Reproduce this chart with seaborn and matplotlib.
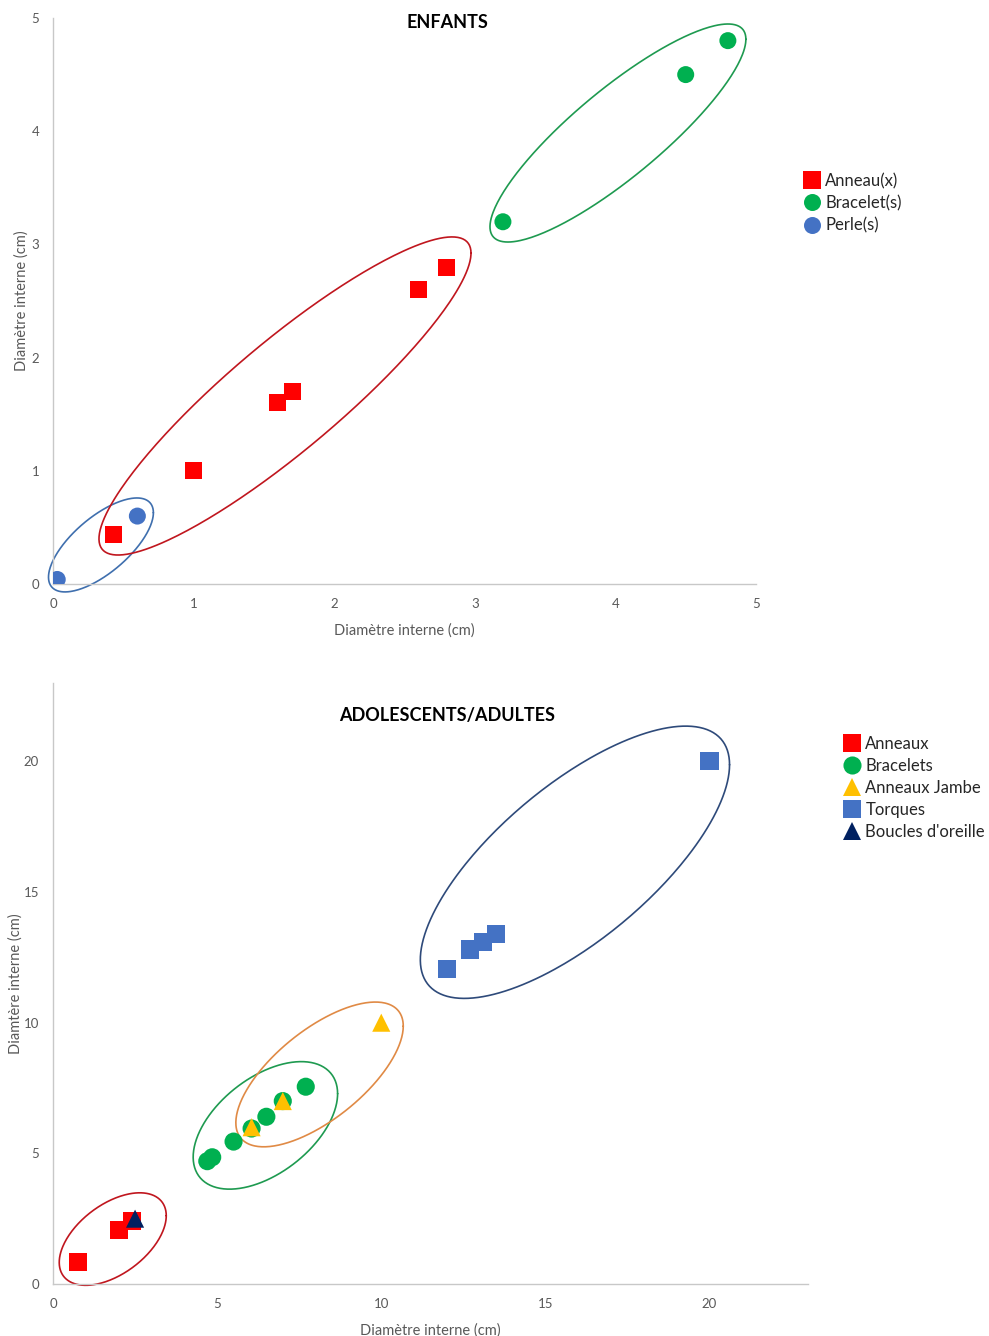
import numpy as np
import pandas as pd
import matplotlib.pyplot as plt
import seaborn as sns

# data - enfants
enf_cat = ['Anneau(x)'] * 6 + ['Bracelet(s)'] * 3 + ['Perle(s)'] * 2
enf_x = [0.43, 1.0, 1.6, 1.7, 2.6, 2.8, 3.2, 4.5, 4.8, 0.03, 0.6]
enf_y = [0.44, 1.0, 1.6, 1.7, 2.6, 2.8, 3.2, 4.5, 4.8, 0.04, 0.6]

# data - adolescents/adultes
adu_cat = (['Anneaux'] * 3 + ['Bracelets'] * 7 + ['Anneaux Jambe'] * 3
           + ['Torques'] * 5 + ["Boucles d'oreille"])
adu_x = [0.75, 2.0, 2.4,
         4.7, 4.85, 5.5, 6.05, 6.5, 7.0, 7.7,
         6.05, 7.0, 10.0,
         12.0, 12.7, 13.1, 13.5, 20.0,
         2.5]
adu_y = [0.85, 2.05, 2.4,
         4.7, 4.85, 5.45, 5.95, 6.4, 7.0, 7.55,
         6.0, 7.0, 10.0,
         12.05, 12.8, 13.1, 13.4, 20.0,
         2.5]

# hand drawn groupings: center, half width, half height, tilt (sin phi), colour
enf_groups = [((0.341, 0.345), 0.373, 0.415, 0.686, '#3F6FAE'),
              ((1.650, 1.661), 1.323, 1.405, 0.898, '#C0161E'),
              ((4.018, 3.984), 0.910, 0.963, 0.86, '#1E9A50')]
adu_groups = [((1.82, 1.72), 1.63, 1.77, 0.505, '#C0161E'),
              ((6.47, 6.07), 2.20, 2.44, 0.497, '#1E9A50'),
              ((8.12, 8.02), 2.55, 2.77, 0.667, '#E08A45'),
              ((15.9, 16.14), 4.71, 5.21, 0.716, '#2E4A7A')]

enf_colors = {'Anneau(x)': '#FF0000', 'Bracelet(s)': '#00B050', 'Perle(s)': '#4472C4'}
enf_markers = {'Anneau(x)': 's', 'Bracelet(s)': 'o', 'Perle(s)': 'o'}
adu_colors = {'Anneaux': '#FF0000', 'Bracelets': '#00B050', 'Anneaux Jambe': '#FFC000',
              'Torques': '#4472C4', "Boucles d'oreille": '#002060'}
adu_markers = {'Anneaux': 's', 'Bracelets': 'o', 'Anneaux Jambe': '^',
               'Torques': 's', "Boucles d'oreille": '^'}

sns.set_style('white')
plt.rcParams['font.family'] = ['Lato', 'DejaVu Sans']

fig = plt.figure(figsize=(9.89, 13.36), dpi=100)
ax1 = fig.add_axes([53 / 989, 1 - 584 / 1336, (756 - 53) / 989, (584 - 18) / 1336])
ax2 = fig.add_axes([53 / 989, 1 - 1284 / 1336, (808 - 53) / 989, (1284 - 683) / 1336])


def draw_ellipse(ax, c, hw, hh, sphi, col):
    t = np.linspace(0, 2 * np.pi, 300)
    phi = np.arcsin(sphi)
    ax.plot(c[0] + hw * np.cos(t), c[1] + hh * np.sin(t + phi),
            color=col, lw=1.2, zorder=1, clip_on=False)


def style_axes(ax, ylabel, ypad):
    sns.despine(ax=ax)
    for s in ['left', 'bottom']:
        ax.spines[s].set_color('#C8C8C8')
        ax.spines[s].set_linewidth(1.0)
    ax.tick_params(axis='both', length=0, labelsize=9.5, labelcolor='#595959', pad=10)
    ax.set_xlabel('Diamètre interne (cm)', fontsize=10.5, color='#595959', labelpad=10)
    ax.set_ylabel(ylabel, fontsize=10.5, color='#595959', labelpad=ypad)
    ax.grid(False)


def put_legend(ax, x0, y0):
    h, l = ax.get_legend_handles_labels()
    ax.legend(h, l, loc='upper left', bbox_to_anchor=(x0 / 989, 1 - y0 / 1336),
              bbox_transform=fig.transFigure, frameon=False, fontsize=12,
              handletextpad=0.2, handlelength=1.2, labelspacing=0.36,
              markerscale=1.0, borderaxespad=0, borderpad=0)


df1 = pd.DataFrame({'cat': enf_cat, 'x': enf_x, 'y': enf_y})
sns.scatterplot(data=df1, x='x', y='y', hue='cat', style='cat',
                palette=enf_colors, markers=enf_markers, s=150,
                linewidth=0, ax=ax1, zorder=3)
for c, hw, hh, sp, col in enf_groups:
    draw_ellipse(ax1, c, hw, hh, sp, col)
ax1.set_xlim(0, 5)
ax1.set_ylim(0, 5)
ax1.set_xticks(range(6))
ax1.set_yticks(range(6))
style_axes(ax1, 'Diamètre interne (cm)', 2)
put_legend(ax1, 802, 173)

df2 = pd.DataFrame({'cat': adu_cat, 'x': adu_x, 'y': adu_y})
sns.scatterplot(data=df2, x='x', y='y', hue='cat', style='cat',
                palette=adu_colors, markers=adu_markers, s=170,
                linewidth=0, ax=ax2, zorder=3)
for c, hw, hh, sp, col in adu_groups:
    draw_ellipse(ax2, c, hw, hh, sp, col)
ax2.set_xlim(0, 23)
ax2.set_ylim(0, 23)
ax2.set_xticks(range(0, 21, 5))
ax2.set_yticks(range(0, 21, 5))
style_axes(ax2, 'Diamtère interne (cm)', 1)
put_legend(ax2, 842, 736)

fig.text(447 / 989, 1 - 23 / 1336, 'ENFANTS', ha='center', va='center',
         fontsize=13, fontweight='bold', color='black')
fig.text(447 / 989, 1 - 716 / 1336, 'ADOLESCENTS/ADULTES', ha='center', va='center',
         fontsize=13, fontweight='bold', color='black')

plt.savefig('out.png', dpi=100)
